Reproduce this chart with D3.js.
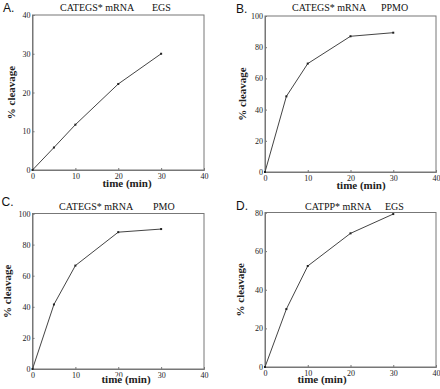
<!DOCTYPE html>
<html>
<head>
<meta charset="utf-8">
<script src="https://cdn.jsdelivr.net/npm/d3@7"></script>
<style>
  body { margin: 0; background: #fff; }
  svg { display: block; }
  text { font-family: "Liberation Serif", "Times New Roman", Times, "DejaVu Serif", serif; }
  text.letter { font-family: "Liberation Sans", Arial, sans-serif; }
</style>
</head>
<body>
<svg id="vis" width="440" height="389"></svg>
<script>
// time points shared by all four panels (min)
const times = [0, 5, 10, 20, 30];

// % cleavage
const cleavageA = [0, 5.8, 11.7, 22.2, 30];
const cleavageB = [0, 48.5, 69.5, 87, 89.3];
const cleavageC = [0, 41.5, 66.5, 88, 90];
const cleavageD = [0, 30, 52.3, 69.2, 79.2];

const xTicks = [0, 10, 20, 30, 40];
const yTicksA = [0, 10, 20, 30, 40];
const yTicks100 = [0, 20, 40, 60, 80, 100];
const yTicksD = [0, 20, 40, 60, 80];

const letters = ["A.", "B.", "C.", "D."];
const titles = ["CATEGS* mRNA", "CATEGS* mRNA", "CATEGS* mRNA", "CATPP* mRNA"];
const guides = ["EGS", "PPMO", "PMO", "EGS"];

// frame boxes of each panel, in page pixels
const panels = [
    {box: [32.5, 15, 204, 170], values: cleavageA, yTicks: yTicksA, yMax: 40,
     letterX: 3, letterY: 11.5, titleX: 60, guideX: 152, titleY: 10.5, xTitle: 127, xTitleY: 187, yTitleX: 15},
    {box: [265, 16, 436, 172], values: cleavageB, yTicks: yTicks100, yMax: 100,
     letterX: 236, letterY: 12.5, titleX: 292, guideX: 381, titleY: 10.5, xTitle: 361, xTitleY: 188.5, yTitleX: 246},
    {box: [32.5, 213.5, 204, 369], values: cleavageC, yTicks: yTicks100, yMax: 100,
     letterX: 1.5, letterY: 206, titleX: 59, guideX: 153, titleY: 210, xTitle: 126, xTitleY: 383, yTitleX: 11},
    {box: [265, 212.5, 436, 367], values: cleavageD, yTicks: yTicksD, yMax: 80,
     letterX: 236, letterY: 210, titleX: 305, guideX: 385, titleY: 210, xTitle: 322, xTitleY: 383, yTitleX: 244}
];

const svg = d3.select("#vis");

panels.forEach(function(p, i){
    const [x0, y0, x1, y1] = p.box;
    const x = d3.scaleLinear().domain([0, 40]).range([x0, x1]);
    const y = d3.scaleLinear().domain([0, p.yMax]).range([y1, y0]);
    const g = svg.append("g");

    // frame
    g.append("rect")
        .attr("x", x0).attr("y", y0)
        .attr("width", x1 - x0).attr("height", y1 - y0)
        .attr("fill", "none")
        .attr("stroke", "#777")
        .attr("stroke-width", 1);

    // axes with short inward ticks
    const xAxis = d3.axisBottom(x).tickValues(xTicks).tickSize(-2).tickPadding(3);
    const yAxis = d3.axisLeft(y).tickValues(p.yTicks).tickSize(-2).tickPadding(2);

    const gx = g.append("g").attr("transform", `translate(0,${y1})`).call(xAxis);
    const gy = g.append("g").attr("transform", `translate(${x0},0)`).call(yAxis);
    [gx, gy].forEach(function(a){
        a.attr("font-family", null).attr("font-size", null);
        a.select(".domain").attr("stroke", "#777");
        a.selectAll(".tick line").attr("stroke", "#777");
        a.selectAll("text")
            .attr("fill", "#222")
            .style("font-size", "8px");
    });

    // the curve
    const pts = times.map(function(t, k){ return [t, p.values[k]]; });
    g.append("path")
        .datum(pts)
        .attr("fill", "none")
        .attr("stroke", "#444")
        .attr("stroke-width", 1)
        .attr("d", d3.line().x(d => x(d[0])).y(d => y(d[1])));

    g.selectAll("rect.pt")
        .data(pts)
        .enter()
        .append("rect")
        .attr("class", "pt")
        .attr("x", d => x(d[0]) - 1)
        .attr("y", d => y(d[1]) - 1)
        .attr("width", 2).attr("height", 2)
        .attr("fill", "#222");

    // panel letter and title
    g.append("text")
        .attr("class", "letter")
        .attr("x", p.letterX).attr("y", p.letterY)
        .style("font-size", "12px")
        .attr("fill", "#111")
        .text(letters[i]);
    g.append("text")
        .attr("x", p.titleX).attr("y", p.titleY)
        .style("font-size", "10px")
        .attr("fill", "#111")
        .text(titles[i]);
    g.append("text")
        .attr("x", p.guideX).attr("y", p.titleY)
        .style("font-size", "10px")
        .attr("fill", "#111")
        .text(guides[i]);

    // axis titles; the x title sits on a white halo over the tick row, as in the figure
    g.append("text")
        .attr("x", p.xTitle).attr("y", p.xTitleY)
        .attr("text-anchor", "middle")
        .style("font-size", "11px").style("font-weight", "bold")
        .attr("fill", "#222")
        .attr("stroke", "#fff")
        .attr("stroke-width", 3)
        .attr("paint-order", "stroke")
        .text("time (min)");
    const cy = (y0 + y1) / 2;
    g.append("text")
        .attr("transform", `translate(${p.yTitleX},${cy}) rotate(-90)`)
        .attr("text-anchor", "middle")
        .style("font-size", "11px").style("font-weight", "bold")
        .attr("fill", "#222")
        .text("% cleavage");
});
</script>
</body>
</html>
